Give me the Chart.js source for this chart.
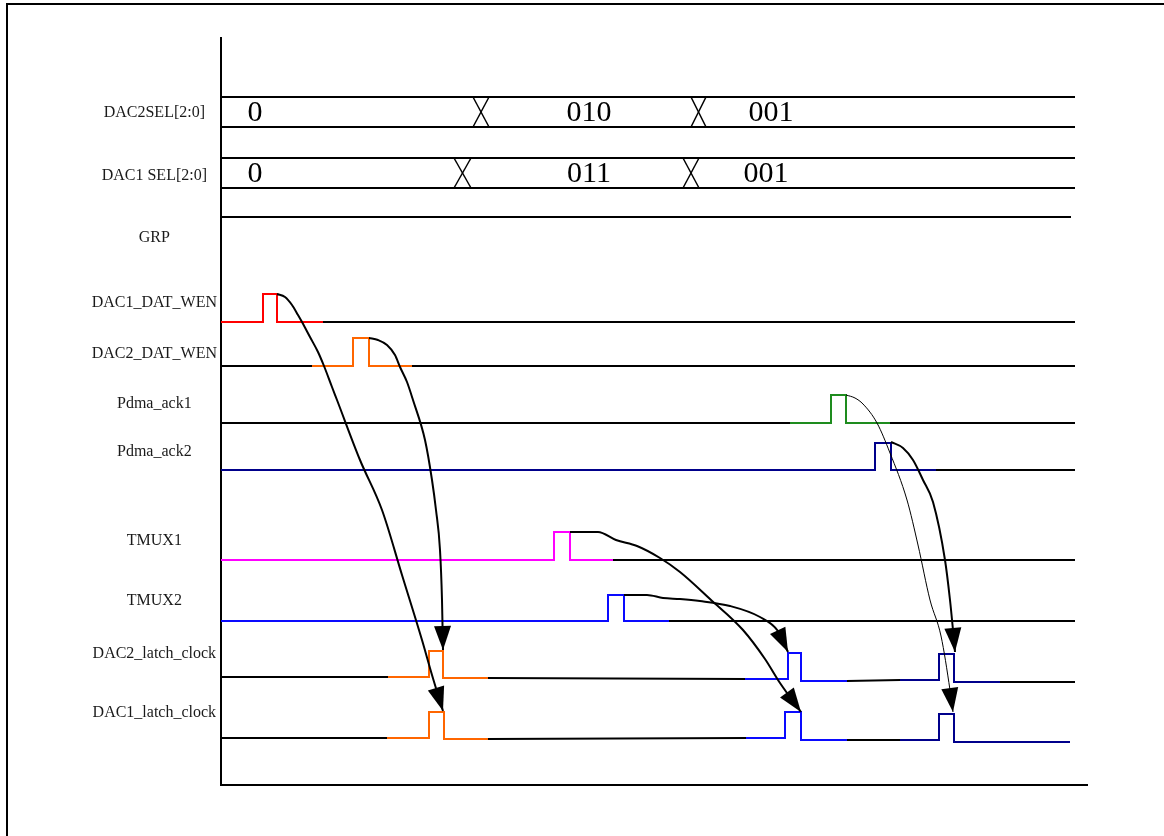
<!DOCTYPE html>
<html>
<head>
<meta charset="utf-8">
<script src="https://cdn.jsdelivr.net/npm/chart.js@4.4.0/dist/chart.umd.min.js"></script>
<style>
    html, body { margin: 0; padding: 0; background: #fff; }
    #wrap { position: relative; width: 1164px; height: 836px; }
    #frame { position: absolute; left: 6px; top: 3px; right: 0; bottom: 0; border-top: 2px solid #000; border-left: 2px solid #000; pointer-events: none; }
</style>
</head>
<body>
<div id="wrap">
    <canvas id="grafico"></canvas>
    <div id="frame"></div>
</div>
<script>
// time runs 0..866 on x, levels 0..747 on y (top to bottom)
const laneNames = ['DAC2SEL[2:0]', 'DAC1 SEL[2:0]', 'GRP', 'DAC1_DAT_WEN', 'DAC2_DAT_WEN', 'Pdma_ack1', 'Pdma_ack2', 'TMUX1', 'TMUX2', 'DAC2_latch_clock', 'DAC1_latch_clock'];
const laneLabelAt = [75, 138, 200, 265, 316, 366, 414, 503, 563, 616, 675];

// buses
const busTop = [59, 120];
const busBottom = [89, 150];
const busCrossFrom = [[252, 470], [233, 462]];
const busCrossTo = [[268, 485], [250, 478]];
const busValues = [['0', '010', '001'], ['0', '011', '001']];
const busValueAt = [[34, 368, 550], [34, 368, 545]];
const grpLevel = 179;
const grpEnd = 850;
const lineEnd = 854;

// single pulse signals
const pulseLow = [284, 328, 385, 432, 522, 583];
const pulseHigh = [256, 300, 357, 405, 494, 557];
const pulseRise = [42, 132, 610, 654, 333, 387];
const pulseFall = [56, 148, 625, 670, 349, 403];
const pulseColorFrom = [0, 91, 569, 0, 0, 0];
const pulseColorTo = [102, 191, 669, 715, 392, 448];
const pulseColors = ['#ff0000', '#ff6600', '#1e8c1e', '#00008b', '#ff00ff', '#0a0aff'];

// latch clocks, three pulses each
const latchColors = ['#ff6600', '#0a0aff', '#00008b'];
const dac2LatchRise = [208, 567, 718];
const dac2LatchFall = [222, 580, 733];
const dac2LatchFrom = [167, 524, 679];
const dac2LatchTo = [267, 626, 779];
const dac2LatchHigh = [613, 615, 616];
const dac2LatchLowBefore = [639, 641, 642];
const dac2LatchLowAfter = [640, 643, 644];
const dac2LatchEnd = 854;

const dac1LatchRise = [208, 564, 718];
const dac1LatchFall = [223, 580, 733];
const dac1LatchFrom = [166, 525, 679];
const dac1LatchTo = [267, 626, 849];
const dac1LatchHigh = [674, 674, 676];
const dac1LatchLowBefore = [700, 700, 702];
const dac1LatchLowAfter = [701, 702, 704];
const dac1LatchEnd = 849;

// cause -> effect arrows
const arrowWen1 = [[56, 256], [64, 259], [71, 267], [77, 277], [81, 284], [89, 299], [97, 314], [103, 328], [111, 349], [116, 362], [139, 422], [161, 472], [181, 537], [201, 602], [211, 637], [222, 673]];
const arrowWen2 = [[148, 300], [157, 302], [166, 307], [174, 317], [179, 329], [186, 344], [192, 362], [204, 402], [211, 442], [215, 472], [219, 512], [221, 562], [222, 612]];
const arrowAck1 = [[625, 357], [634, 360], [642, 366], [656, 385], [669, 415], [686, 462], [697, 507], [709, 562], [720, 598], [729, 652], [732, 674]];
const arrowAck2 = [[670, 404], [682, 410], [692, 422], [702, 442], [712, 464], [724, 522], [729, 562], [732, 592], [734, 614]];
const arrowTmux1 = [[349, 494], [377, 494], [395, 502], [416, 508], [439, 520], [459, 534], [489, 561], [522, 592], [544, 621], [559, 645], [580, 674]];
const arrowTmux2 = [[403, 557], [426, 557], [442, 560], [459, 561], [479, 563], [509, 568], [539, 579], [557, 593], [567, 614]];
const arrowList = [arrowWen1, arrowWen2, arrowAck1, arrowAck2, arrowTmux1, arrowTmux2];
const arrowWidths = [2, 2, 1, 2, 2, 2];


function plain(points, color, width) {
    return {
        data: points,
        showLine: true,
        borderColor: color,
        borderWidth: width,
        pointRadius: 0,
        tension: 0,
        order: 2
    };
}

function waveform(rise, fall, from, to, high, lowB, lowA, end, colors) {
    const pts = [{ x: 0, y: lowB[0] }];
    const segs = [];
    for (let i = 0; i < rise.length; i++) {
        pts.push({ x: from[i], y: lowB[i] }); segs.push('#000');
        pts.push({ x: rise[i], y: lowB[i] }); segs.push(colors[i]);
        pts.push({ x: rise[i], y: high[i] }); segs.push(colors[i]);
        pts.push({ x: fall[i], y: high[i] }); segs.push(colors[i]);
        pts.push({ x: fall[i], y: lowA[i] }); segs.push(colors[i]);
        pts.push({ x: to[i], y: lowA[i] }); segs.push(colors[i]);
    }
    pts.push({ x: end, y: lowA[lowA.length - 1] }); segs.push('#000');
    const ds = plain(pts, '#000', 2);
    ds.segment = { borderColor: c => segs[c.p0DataIndex] };
    return ds;
}

const datasets = [];

// bus outlines and crossings
for (let b = 0; b < busTop.length; b++) {
    datasets.push(plain([{ x: 0, y: busTop[b] }, { x: lineEnd, y: busTop[b] }], '#000', 2));
    datasets.push(plain([{ x: 0, y: busBottom[b] }, { x: lineEnd, y: busBottom[b] }], '#000', 2));
    for (let k = 0; k < busCrossFrom[b].length; k++) {
        datasets.push(plain([{ x: busCrossFrom[b][k], y: busTop[b] }, { x: busCrossTo[b][k], y: busBottom[b] }], '#000', 1.5));
        datasets.push(plain([{ x: busCrossFrom[b][k], y: busBottom[b] }, { x: busCrossTo[b][k], y: busTop[b] }], '#000', 1.5));
    }
}
datasets.push(plain([{ x: 0, y: grpLevel }, { x: grpEnd, y: grpLevel }], '#000', 2));

for (let i = 0; i < pulseRise.length; i++) {
    datasets.push(waveform([pulseRise[i]], [pulseFall[i]], [pulseColorFrom[i]], [pulseColorTo[i]],
        [pulseHigh[i]], [pulseLow[i]], [pulseLow[i]], lineEnd, [pulseColors[i]]));
}
datasets.push(waveform(dac2LatchRise, dac2LatchFall, dac2LatchFrom, dac2LatchTo, dac2LatchHigh,
    dac2LatchLowBefore, dac2LatchLowAfter, dac2LatchEnd, latchColors));
datasets.push(waveform(dac1LatchRise, dac1LatchFall, dac1LatchFrom, dac1LatchTo, dac1LatchHigh,
    dac1LatchLowBefore, dac1LatchLowAfter, dac1LatchEnd, latchColors));

arrowList.forEach(function (a, i) {
    const ds = plain(a.map(p => ({ x: p[0], y: p[1] })), '#000', arrowWidths[i]);
    ds.cubicInterpolationMode = 'monotone';
    ds.order = 1;
    ds.arrowHead = true;
    datasets.push(ds);
});

const arrowHeads = {
    id: 'arrowHeads',
    afterDatasetsDraw(chart) {
        const ctx = chart.ctx;
        ctx.save();
        ctx.fillStyle = '#000';
        chart.data.datasets.forEach(function (ds, i) {
            if (!ds.arrowHead) return;
            const pts = chart.getDatasetMeta(i).data;
            const tip = pts[pts.length - 1];
            const prev = pts[pts.length - 2];
            const ang = Math.atan2(tip.y - prev.y, tip.x - prev.x);
            const len = 24, half = 8.5;
            const bx = tip.x - len * Math.cos(ang);
            const by = tip.y - len * Math.sin(ang);
            ctx.beginPath();
            ctx.moveTo(tip.x, tip.y);
            ctx.lineTo(bx + half * Math.sin(ang), by - half * Math.cos(ang));
            ctx.lineTo(bx - half * Math.sin(ang), by + half * Math.cos(ang));
            ctx.closePath();
            ctx.fill();
        });
        ctx.restore();
    }
};

const busText = {
    id: 'busText',
    afterDatasetsDraw(chart) {
        const ctx = chart.ctx;
        const xs = chart.scales.x, ys = chart.scales.y;
        ctx.save();
        ctx.fillStyle = '#000';
        ctx.font = '30px "Liberation Serif"';
        ctx.textAlign = 'center';
        ctx.textBaseline = 'middle';
        for (let b = 0; b < busValues.length; b++) {
            const yMid = ys.getPixelForValue((busTop[b] + busBottom[b]) / 2);
            busValues[b].forEach(function (v, k) {
                ctx.fillText(v, xs.getPixelForValue(busValueAt[b][k]), yMid + 1);
            });
        }
        ctx.restore();
    }
};

const grafico = new Chart(document.getElementById('grafico').getContext('2d'), {
    type: 'scatter',
    data: { datasets: datasets },
    options: {
        responsive: true,
        maintainAspectRatio: false,
        animation: false,
        events: [],
        layout: { padding: { top: 38, right: 77, left: 0, bottom: 0 } },
        plugins: {
            legend: { display: false },
            tooltip: { enabled: false }
        },
        scales: {
            x: {
                type: 'linear',
                min: 0,
                max: 866,
                grid: { display: false, drawTicks: false },
                ticks: { display: false },
                border: { display: true, color: '#000', width: 2 },
                afterFit: function (s) { s.height = 51; }
            },
            y: {
                type: 'linear',
                reverse: true,
                min: 0,
                max: 747,
                grid: { display: false, drawTicks: false },
                border: { display: true, color: '#000', width: 2 },
                afterBuildTicks: function (s) { s.ticks = laneLabelAt.map(v => ({ value: v })); },
                ticks: {
                    autoSkip: false,
                    crossAlign: 'center',
                    padding: 4,
                    color: '#1a1a1a',
                    font: { family: '"Liberation Serif"', size: 16 },
                    callback: function (v, i) { return laneNames[i]; }
                },
                afterFit: function (s) { s.width = 221; }
            }
        }
    },
    plugins: [arrowHeads, busText]
});
</script>
</body>
</html>
